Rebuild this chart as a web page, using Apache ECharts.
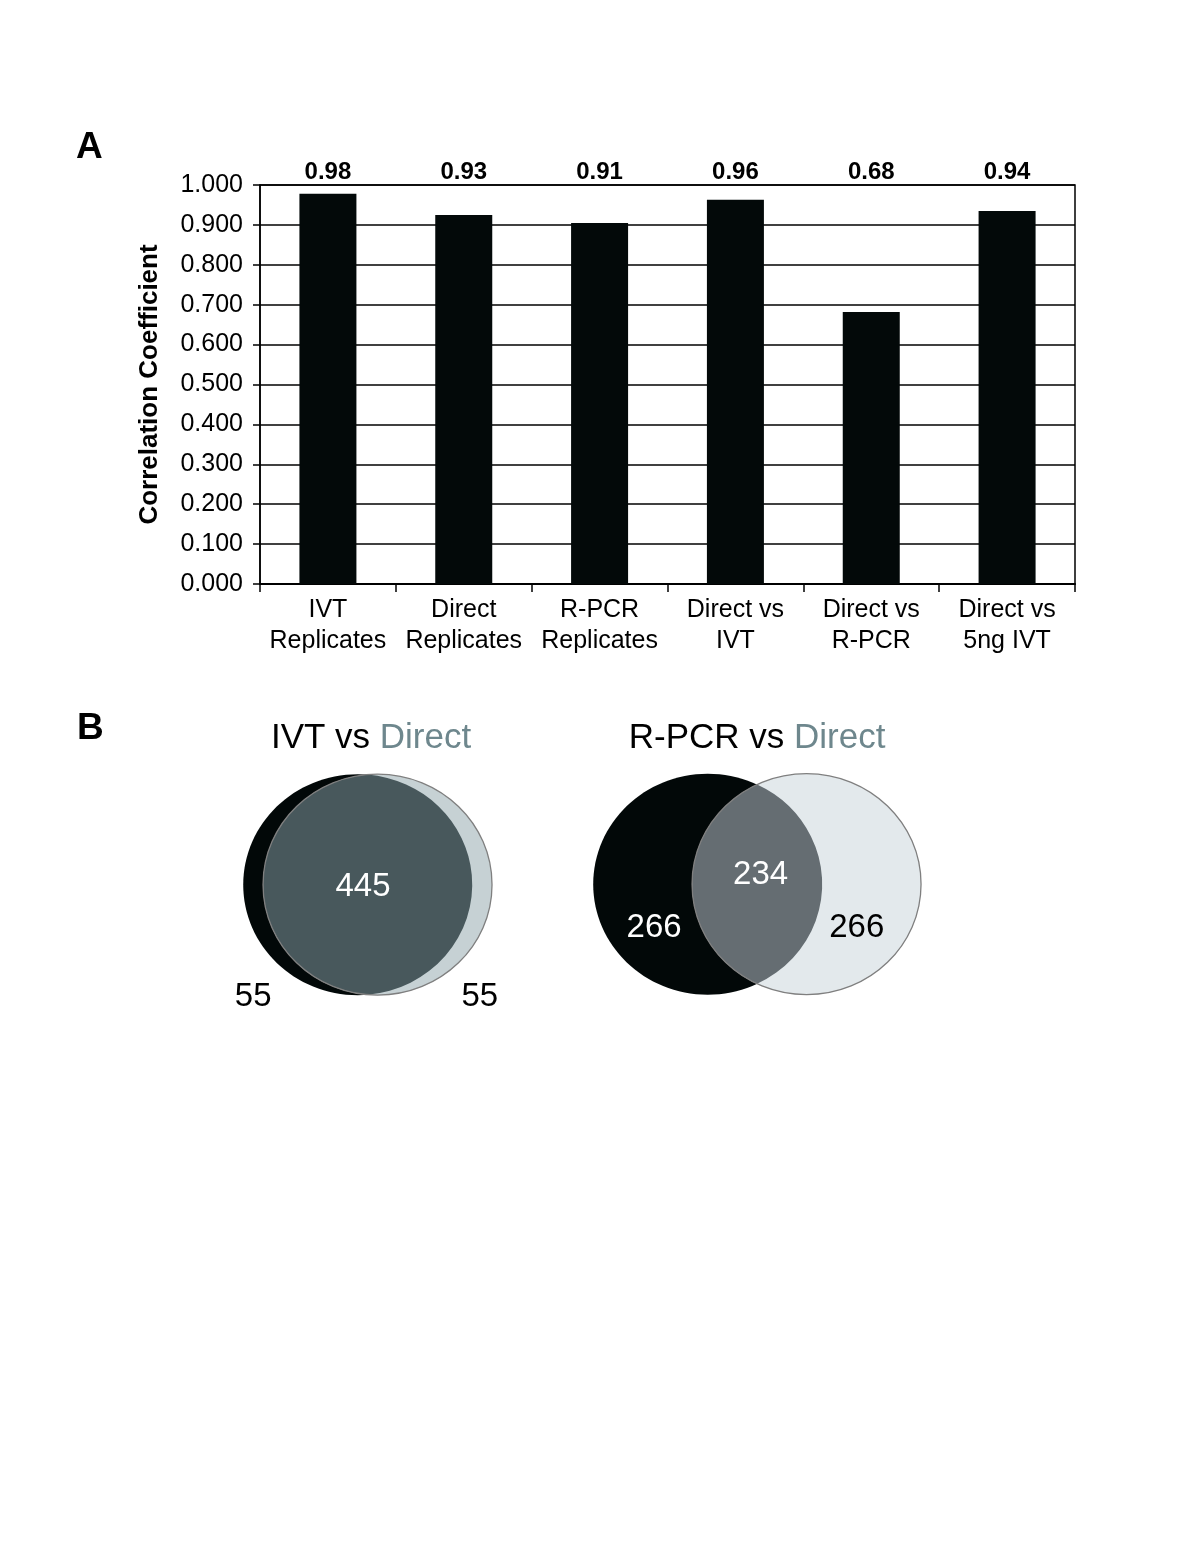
<!DOCTYPE html>
<html><head><meta charset="utf-8">
<script src="https://cdn.jsdelivr.net/npm/echarts@6/dist/echarts.min.js"></script>
<style>html,body{margin:0;padding:0;background:#fff}#chart{width:1198px;height:1551px}</style>
</head><body><div id="chart"></div>
<script>
// ---------- Data ----------
const categories = ['IVT\nReplicates', 'Direct\nReplicates', 'R-PCR\nReplicates', 'Direct vs\nIVT', 'Direct vs\nR-PCR', 'Direct vs\n5ng IVT'];
const correlation = [0.978, 0.925, 0.905, 0.963, 0.682, 0.935];
const correlationLabels = ['0.98', '0.93', '0.91', '0.96', '0.68', '0.94'];
const yAxisMin = 0, yAxisMax = 1, yAxisStep = 0.1;

const vennNameA = ['IVT', 'R-PCR'];
const vennNameB = ['Direct', 'Direct'];
const vennOnlyA = [55, 266];
const vennShared = [445, 234];
const vennOnlyB = [55, 266];

// ---------- Layout / style ----------
const FONT = '"Liberation Sans", Arial, Helvetica, sans-serif';
const vennLayout = [
  { grid: { left: 224.5, top: 746.5 }, title: [0.03, 1.32],
    posA: [-1.0, -1.02], posAB: [-0.04, -0.02], posB: [0.98, -1.02],
    txtA: '#000', txtAB: '#fff', txtB: '#000',
    fillA: '#020808', fillB: '#c6d1d4', fillAB: '#48585c' },
  { grid: { left: 614, top: 746 }, title: [0.0, 1.315],
    posA: [-0.90, -0.40], posAB: [0.03, 0.08], posB: [0.87, -0.40],
    txtA: '#fff', txtAB: '#fff', txtB: '#000',
    fillA: '#020808', fillB: '#e3e9ec', fillAB: '#656d72' }
];
const VENN_W = 2.5 * 114.5, VENN_H = 2.5 * 110.5;

function lensArea(d, r1, r2) {
  if (d >= r1 + r2) return 0;
  if (d <= Math.abs(r1 - r2)) return Math.PI * Math.min(r1, r2) ** 2;
  const a1 = Math.acos((d * d + r1 * r1 - r2 * r2) / (2 * d * r1));
  const a2 = Math.acos((d * d + r2 * r2 - r1 * r1) / (2 * d * r2));
  return r1 * r1 * a1 + r2 * r2 * a2 - 0.5 * Math.sqrt((-d + r1 + r2) * (d + r1 - r2) * (d - r1 + r2) * (d + r1 + r2));
}
function solveDistance(target, r1, r2) {
  let lo = Math.abs(r1 - r2) + 1e-9, hi = r1 + r2;
  for (let k = 0; k < 80; k++) {
    const mid = (lo + hi) / 2;
    if (lensArea(mid, r1, r2) > target) lo = mid; else hi = mid;
  }
  return (lo + hi) / 2;
}

function makeVennRender(i) {
  return function (params, api) {
    const L = vennLayout[i];
    const totA = vennOnlyA[i] + vennShared[i], totB = vennOnlyB[i] + vennShared[i];
    const m = Math.max(totA, totB);
    const rA = Math.sqrt(totA / m), rB = Math.sqrt(totB / m);
    const d = solveDistance(Math.PI * vennShared[i] / m, rA, rB);
    const ax = -d / 2, bx = d / 2;
    const c0 = api.coord([0, 0]);
    const c1 = api.coord([1, 1]);
    const sx = Math.abs(c1[0] - c0[0]), sy = Math.abs(c1[1] - c0[1]);
    const P = (x, y) => [c0[0] + x * sx, c0[1] - y * sy];
    const ca = P(ax, 0), cb = P(bx, 0);
    const a = (d * d + rA * rA - rB * rB) / (2 * d);
    const h = Math.sqrt(Math.max(0, rA * rA - a * a));
    const xc = ax + a;
    const pt = P(xc, h), pb = P(xc, -h);
    const largeB = xc > bx ? 1 : 0;
    const largeA = xc < ax ? 1 : 0;
    const lens = 'M' + pt[0] + ' ' + pt[1] +
      ' A' + (rB * sx) + ' ' + (rB * sy) + ' 0 ' + largeB + ' 0 ' + pb[0] + ' ' + pb[1] +
      ' A' + (rA * sx) + ' ' + (rA * sy) + ' 0 ' + largeA + ' 0 ' + pt[0] + ' ' + pt[1] + ' Z';
    const txt = (pos, text, fill) => {
      const p = P(pos[0], pos[1]);
      return { type: 'text', style: { text: String(text), x: p[0], y: p[1], fill: fill,
        fontSize: 33, fontFamily: FONT, align: 'center', verticalAlign: 'middle' } };
    };
    const tp = P(L.title[0], L.title[1]);
    return {
      type: 'group',
      children: [
        { type: 'ellipse', shape: { cx: ca[0], cy: ca[1], rx: rA * sx, ry: rA * sy }, style: { fill: L.fillA } },
        { type: 'ellipse', shape: { cx: cb[0], cy: cb[1], rx: rB * sx, ry: rB * sy }, style: { fill: L.fillB } },
        { type: 'path', shape: { pathData: lens }, style: { fill: L.fillAB } },
        { type: 'ellipse', shape: { cx: cb[0], cy: cb[1], rx: rB * sx, ry: rB * sy }, style: { fill: null, stroke: '#7f7f7f', lineWidth: 1.3 } },
        txt(L.posA, vennOnlyA[i], L.txtA),
        txt(L.posAB, vennShared[i], L.txtAB),
        txt(L.posB, vennOnlyB[i], L.txtB),
        { type: 'text', style: {
            text: '{a|' + vennNameA[i] + ' vs }{b|' + vennNameB[i] + '}',
            x: tp[0], y: tp[1], align: 'center', verticalAlign: 'middle',
            fontSize: 35, fontFamily: FONT,
            rich: {
              a: { fill: '#000', fontSize: 35, fontFamily: FONT },
              b: { fill: '#6e878d', fontSize: 35, fontFamily: FONT }
            } } }
      ]
    };
  };
}

const hiddenAxis = (gi) => ({ type: 'value', gridIndex: gi, min: -1.25, max: 1.25, show: false, splitLine: { show: false } });

const option = {
  backgroundColor: '#ffffff',
  animation: false,
  textStyle: { fontFamily: FONT },
  title: [
    { text: 'A', left: 71, top: 124, textStyle: { fontSize: 37, fontWeight: 'bold', color: '#000', fontFamily: FONT } },
    { text: 'B', left: 72, top: 705, textStyle: { fontSize: 37, fontWeight: 'bold', color: '#000', fontFamily: FONT } }
  ],
  grid: [
    { left: 260, top: 185, width: 815, height: 399, show: true, borderColor: '#000', borderWidth: 1.5, backgroundColor: 'transparent', outerBoundsMode: 'none' },
    { left: vennLayout[0].grid.left, top: vennLayout[0].grid.top, width: VENN_W, height: VENN_H, outerBoundsMode: 'none' },
    { left: vennLayout[1].grid.left, top: vennLayout[1].grid.top, width: VENN_W, height: VENN_H, outerBoundsMode: 'none' }
  ],
  xAxis: [
    { type: 'category', gridIndex: 0, data: categories, position: 'bottom', boundaryGap: true,
      axisLine: { show: true, lineStyle: { color: '#000', width: 2 } },
      axisTick: { show: true, alignWithLabel: false, interval: 0, length: 8, lineStyle: { color: '#000', width: 1.5 } },
      axisLabel: { interval: 0, color: '#000', fontSize: 25, lineHeight: 31, margin: 11, fontFamily: FONT },
      splitLine: { show: false } },
    { type: 'category', gridIndex: 0, data: correlationLabels, position: 'top', boundaryGap: true,
      axisLine: { show: false }, axisTick: { show: false }, splitLine: { show: false },
      axisLabel: { interval: 0, color: '#000', fontSize: 24, fontWeight: 'bold', margin: 1, fontFamily: FONT } },
    hiddenAxis(1),
    hiddenAxis(2)
  ],
  yAxis: [
    { type: 'value', gridIndex: 0, min: yAxisMin, max: yAxisMax, interval: yAxisStep,
      name: 'Correlation Coefficient', nameLocation: 'middle', nameGap: 97, nameRotate: 90,
      nameTextStyle: { fontSize: 26, fontWeight: 'bold', color: '#000', fontFamily: FONT },
      axisLine: { show: true, lineStyle: { color: '#000', width: 1.5 } },
      axisTick: { show: true, length: 7, lineStyle: { color: '#000', width: 1.5 } },
      axisLabel: { color: '#000', fontSize: 25, margin: 17, fontFamily: FONT, formatter: v => v.toFixed(3) },
      splitLine: { show: true, lineStyle: { color: '#000', width: 1.5, type: 'solid' } } },
    hiddenAxis(1),
    hiddenAxis(2)
  ],
  series: [
    { type: 'bar', xAxisIndex: 0, yAxisIndex: 0, data: correlation, barWidth: 57,
      itemStyle: { color: '#030909' } },
    { type: 'custom', xAxisIndex: 2, yAxisIndex: 1, data: [[0, 0]], renderItem: makeVennRender(0), clip: false },
    { type: 'custom', xAxisIndex: 3, yAxisIndex: 2, data: [[0, 0]], renderItem: makeVennRender(1), clip: false }
  ]
};
const chart = echarts.init(document.getElementById('chart'), null, { renderer: 'canvas' });
chart.setOption(option);
</script></body></html>
